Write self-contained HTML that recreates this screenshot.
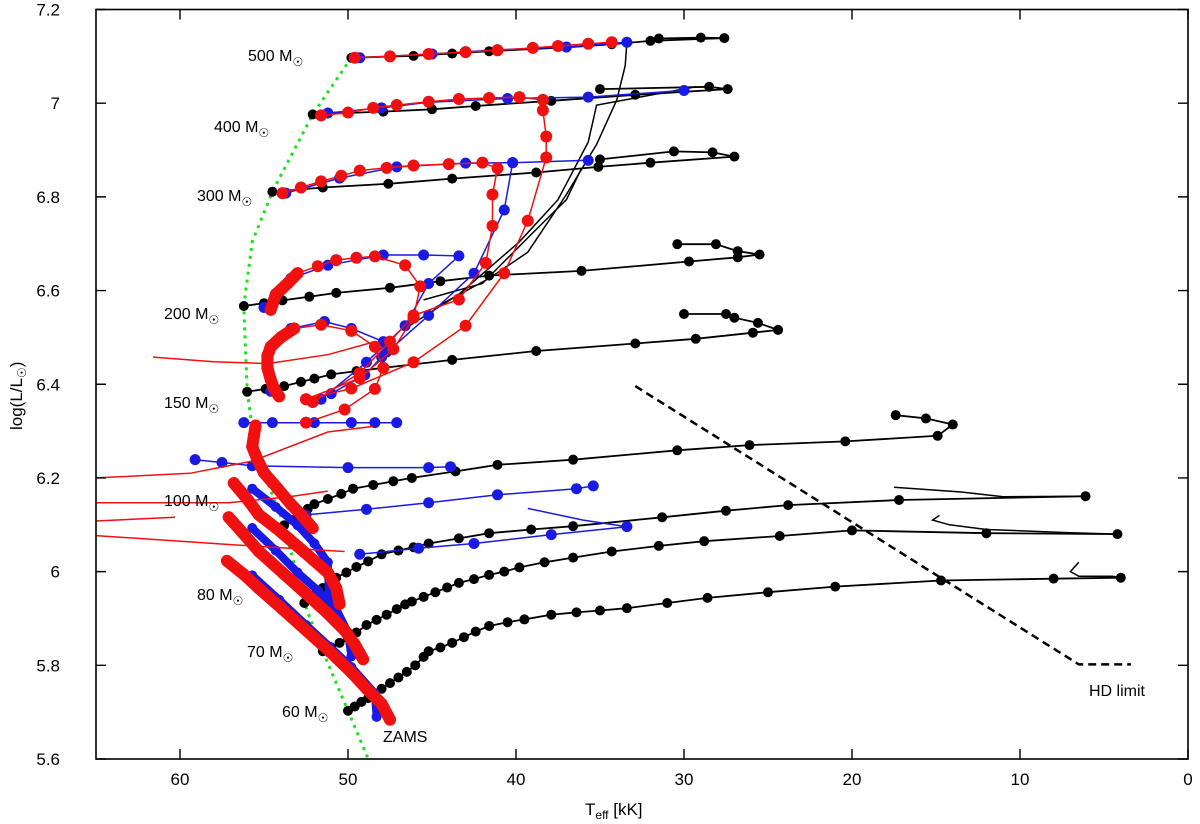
<!DOCTYPE html>
<html><head><meta charset="utf-8"><style>
html,body{margin:0;padding:0;background:#fff;}
svg{display:block;font-family:"Liberation Sans",sans-serif;}
</style></head><body>
<svg id="chart" width="1200" height="824" viewBox="0 0 1200 824" xmlns="http://www.w3.org/2000/svg">
<g id="marks"></g>
<g id="axes"></g>
</svg>
<script>
// ---- data (Teff [kK], log L) ----
const xTicks=[60,50,40,30,20,10,0];
const yTicks=[5.6,5.8,6,6.2,6.4,6.6,6.8,7,7.2];
const yTickLabels=["5.6","5.8","6","6.2","6.4","6.6","6.8","7","7.2"];
const zams=[[49.8,7.097],[52.1,6.976],[54.5,6.811],[55.7,6.704],[56.2,6.567],[56.0,6.384],[55.5,6.256],[53.8,6.099],[52.6,5.933],[51.5,5.83],[50.0,5.703],[48.8,5.6]];
const hdLimit=[[32.9,6.396],[6.5,5.802],[3.4,5.802]];
const black60=[[50.0,5.703],[49.6,5.712],[49.2,5.722],[48.8,5.73],[48.4,5.74],[48.0,5.75],[47.5,5.762],[47.0,5.774],[46.5,5.786],[46.0,5.8],[45.5,5.818],[45.2,5.83],[44.5,5.838],[43.8,5.848],[43.1,5.86],[42.4,5.872],[41.6,5.884],[40.5,5.892],[39.5,5.898],[37.9,5.908],[36.4,5.913],[35.0,5.917],[33.4,5.922],[31.0,5.933],[28.6,5.944],[25.0,5.956],[21.0,5.968],[14.7,5.981],[8.0,5.985],[4.0,5.987]];
const black60b=[[6.5,6.02],[7.0,6.0],[6.5,5.99],[4.5,5.99],[4.0,5.987]];
const black70=[[51.5,5.83],[51.0,5.838],[50.5,5.848],[50.0,5.858],[49.5,5.87],[48.9,5.886],[48.3,5.897],[47.7,5.908],[47.1,5.92],[46.6,5.93],[46.2,5.936],[45.5,5.946],[44.8,5.956],[44.1,5.966],[43.4,5.976],[42.5,5.984],[41.6,5.993],[40.7,6.0],[39.8,6.009],[38.3,6.02],[36.6,6.03],[34.3,6.043],[31.5,6.055],[28.8,6.065],[24.3,6.076],[20.0,6.088],[12.0,6.082],[4.2,6.08]];
const black70b=[[14.8,6.12],[15.2,6.11],[14.2,6.1],[12.0,6.09],[7,6.083],[4.2,6.08]];
const black80=[[52.6,5.933],[52.0,5.95],[51.5,5.965],[51.1,5.977],[50.7,5.987],[50.1,5.998],[49.5,6.01],[48.8,6.022],[48.0,6.037],[47.0,6.045],[46.1,6.052],[45.2,6.06],[43.4,6.071],[41.6,6.082],[39.1,6.09],[36.6,6.097],[31.3,6.116],[27.5,6.13],[23.8,6.142],[17.2,6.153],[6.1,6.161]];
const black80b=[[17.5,6.18],[13.5,6.17],[11.0,6.16],[6.1,6.161]];
const black100=[[53.8,6.099],[53.3,6.11],[52.9,6.124],[52.4,6.134],[52.0,6.144],[51.2,6.155],[50.4,6.166],[49.7,6.177],[48.5,6.185],[47.3,6.193],[46.2,6.2],[43.6,6.214],[41.1,6.228],[36.6,6.239],[30.4,6.259],[26.1,6.27],[20.4,6.278],[14.9,6.29],[14.0,6.314],[15.6,6.327],[17.4,6.334]];
const black150=[[56.0,6.384],[54.9,6.39],[53.8,6.396],[52.8,6.405],[52.0,6.412],[51.0,6.421],[49.5,6.428],[47.9,6.435],[43.8,6.452],[38.8,6.471],[32.9,6.487],[29.3,6.497],[25.9,6.51],[24.4,6.516],[25.6,6.531],[27.0,6.542],[27.5,6.55],[30.0,6.55]];
const black200=[[56.2,6.567],[55.0,6.573],[53.9,6.579],[52.3,6.587],[50.7,6.595],[47.5,6.606],[44.5,6.62],[41.6,6.632],[36.1,6.642],[29.7,6.662],[26.8,6.671],[25.5,6.677],[26.8,6.684],[28.1,6.699],[30.4,6.699]];
const black300=[[54.5,6.811],[51.5,6.82],[47.6,6.828],[43.8,6.839],[38.8,6.852],[35.1,6.864],[32.0,6.873],[27.0,6.886],[28.3,6.895],[30.6,6.897],[35.0,6.88]];
const black400=[[52.1,6.976],[47.9,6.982],[45.0,6.987],[42.4,6.994],[37.9,7.005],[32.9,7.018],[27.4,7.03],[28.5,7.035],[35.0,7.03]];
const black500=[[49.8,7.097],[46.1,7.101],[43.8,7.106],[41.6,7.111],[37.0,7.119],[34.3,7.126],[32.0,7.133],[27.6,7.139],[29.0,7.14],[31.5,7.138]];
const blackDrop1=[[33.4,7.13],[33.5,7.08],[34.0,7.007],[35.2,6.912],[37.0,6.805],[39.3,6.682],[41.6,6.626],[44.8,6.564]];
const blackDrop2=[[29.3,7.035],[35.2,6.996],[35.7,6.917],[37.5,6.794],[39.8,6.704],[43.4,6.592],[46.6,6.519]];
const blackDrop3=[[36.1,6.861],[37.0,6.794],[38.9,6.727],[42.0,6.615],[45.5,6.58]];
const red500=[[49.6,7.097],[47.5,7.1],[45.2,7.105],[43.0,7.109],[41.1,7.113],[39.0,7.118],[37.5,7.122],[35.7,7.127],[34.3,7.13]];
const red400=[[51.6,6.974],[50.0,6.98],[48.5,6.99],[47.1,6.996],[45.2,7.003],[43.4,7.009],[41.6,7.011],[39.8,7.013],[38.4,7.007],[38.4,6.985],[38.2,6.929],[38.2,6.884],[39.3,6.749],[40.7,6.637],[43.0,6.525],[46.1,6.447],[49.8,6.391],[52.5,6.368]];
const red300=[[53.9,6.808],[52.8,6.82],[51.6,6.833],[50.4,6.845],[49.3,6.856],[47.7,6.862],[46.1,6.867],[44.0,6.87],[42.0,6.873],[41.1,6.861],[41.4,6.805],[41.4,6.738],[41.8,6.659],[43.4,6.581],[46.1,6.547],[47.5,6.491],[49.3,6.424],[52.1,6.362]];
const red200a=[[54.6,6.559],[54.4,6.58],[54.3,6.592],[53.9,6.605],[53.6,6.615],[53.0,6.637]];
const red200=[[53.0,6.637],[51.8,6.652],[50.7,6.665],[49.5,6.67],[48.4,6.673],[46.6,6.654],[45.7,6.609],[46.1,6.542],[47.3,6.475],[49.3,6.413],[52.5,6.368]];
const red150a=[[54.1,6.374],[54.4,6.39],[54.6,6.41],[54.8,6.435],[54.8,6.46],[54.6,6.48],[54.0,6.5],[53.2,6.519]];
const red150=[[53.2,6.519],[51.6,6.527],[49.8,6.514],[48.4,6.48],[47.9,6.435],[48.4,6.39],[50.2,6.346],[52.5,6.318]];
const red150b=[[61.6,6.458],[58,6.448],[54.8,6.444],[51.2,6.463],[48.4,6.491]];
const red100=[[55.5,6.312],[55.6,6.29],[55.7,6.267],[55.4,6.24],[55.0,6.211],[54.2,6.178],[53.4,6.144],[52.7,6.118],[52.1,6.093]];
const redLeft1=[[65,6.2],[59.4,6.21],[55.7,6.236],[51.2,6.298],[48.5,6.31]];
const redLeft2=[[65,6.147],[57.1,6.147],[53.5,6.16],[51.2,6.172]];
const redLeft3=[[65,6.108],[60.3,6.116]];
const redLeft4=[[65,6.077],[57.1,6.058],[53.5,6.05],[50.2,6.043]];
const red80=[[56.8,6.189],[56.0,6.155],[55.3,6.121],[54.1,6.088],[53.0,6.054],[52.1,6.026],[51.2,5.998],[50.7,5.965],[50.5,5.931]];
const red70=[[57.1,6.116],[56.2,6.08],[55.3,6.043],[53.9,5.998],[52.5,5.953],[51.3,5.914],[50.2,5.875],[49.6,5.845],[49.1,5.813]];
const red60=[[57.2,6.023],[56.2,5.994],[55.3,5.964],[53.9,5.92],[52.5,5.875],[51.1,5.83],[49.8,5.785],[48.9,5.75],[48.0,5.718],[47.5,5.684]];
const blue60=[[55.7,5.992],[54.1,5.94],[52.5,5.886],[51.1,5.84],[49.8,5.796],[48.4,5.74],[48.3,5.69]];
const blue70=[[55.7,6.093],[54.3,6.045],[53.0,5.998],[51.8,5.96],[50.7,5.92],[50.0,5.87],[49.8,5.819]];
const blue80=[[55.7,6.177],[54.3,6.138],[53.0,6.099],[52.0,6.06],[51.2,6.02],[51.1,5.92]];
const blueH1=[[56.2,6.318],[54.5,6.318],[52.0,6.318],[49.8,6.318],[48.4,6.318],[47.1,6.318]];
const blueH2=[[59.1,6.239],[57.5,6.233],[55.7,6.226],[50.0,6.222],[45.2,6.222],[43.9,6.224]];
const blueH3=[[52.5,6.121],[48.9,6.133],[45.2,6.147],[41.1,6.164],[36.4,6.177],[35.4,6.183]];
const blueH4=[[49.3,6.037],[45.8,6.05],[42.5,6.06],[37.9,6.079],[33.4,6.096]];
const blueH4b=[[39.3,6.135],[36.0,6.11],[33.4,6.096]];
const blue150=[[54.6,6.385],[54.7,6.42],[54.8,6.458],[53.4,6.519],[51.4,6.534],[49.8,6.519],[47.9,6.491],[47.7,6.469],[49.0,6.42],[51.0,6.38]];
const blue200=[[55.0,6.564],[53.4,6.626],[51.2,6.654],[47.9,6.676],[45.5,6.676],[43.4,6.674],[45.2,6.615],[46.6,6.525],[48.9,6.447],[51.6,6.368]];
const blue300=[[53.7,6.808],[50.5,6.84],[47.1,6.864],[43.0,6.872],[40.2,6.873],[35.7,6.878]];
const blue300b=[[40.2,6.873],[40.7,6.772],[42.5,6.637],[45.2,6.547],[48.0,6.458]];
const blue400=[[51.2,6.979],[48.0,6.99],[45.2,7.002],[40.5,7.01],[35.7,7.013],[30.0,7.027]];
const blue500=[[49.3,7.097],[45.0,7.105],[41.1,7.114],[37.0,7.12],[33.4,7.13]];

// ---- scales ----
const X0=96,X1=1188,Y0=9.5,Y1=759,TMAX=65,LMIN=5.6,LMAX=7.2;
function sx(t){return X1-(t/TMAX)*(X1-X0);}
function sy(l){return Y1-(l-LMIN)/(LMAX-LMIN)*(Y1-Y0);}
const NS="http://www.w3.org/2000/svg";
const marks=document.getElementById('marks');
const axes=document.getElementById('axes');
function mk(tag,attrs,parent){const e=document.createElementNS(NS,tag);for(const k in attrs)e.setAttribute(k,attrs[k]);parent.appendChild(e);return e;}
function pathD(pts){return pts.map((p,i)=>(i?'L':'M')+sx(p[0]).toFixed(1)+' '+sy(p[1]).toFixed(1)).join(' ');}
function track(pts,name,color,lw,r,thick){
  const g=mk('g',{},marks);
  
  
  if(thick){const t=mk('path',{d:pathD(pts),fill:'none',stroke:color,'stroke-width':thick,'stroke-linecap':'round','stroke-linejoin':'round'},g);
    
    }
  const l=mk('path',{d:pathD(pts),fill:'none',stroke:color,'stroke-width':lw},g);
  
  
  if(r>0)pts.forEach(p=>{const c=mk('circle',{cx:sx(p[0]),cy:sy(p[1]),r:r,fill:color},g);
    
    });
}
const K='#000',R='#f01010',B='#1a1ae6';
const z=mk('path',{d:pathD(zams),fill:'none',stroke:'#22dd22','stroke-width':3,'stroke-dasharray':'3,5'},marks);


[[black60,'black-track-60'],[black70,'black-track-70'],[black80,'black-track-80'],[black100,'black-track-100'],[black150,'black-track-150'],[black200,'black-track-200'],[black300,'black-track-300'],[black400,'black-track-400'],[black500,'black-track-500']].forEach(a=>track(a[0],a[1],K,1.8,5,0));
[[black60b,'black-hook-60'],[black70b,'black-hook-70'],[black80b,'black-hook-80'],[blackDrop1,'black-drop-500'],[blackDrop2,'black-drop-400'],[blackDrop3,'black-drop-300']].forEach(a=>track(a[0],a[1],K,1.5,0,0));
[[blue60,'blue-track-60'],[blue70,'blue-track-70'],[blue80,'blue-track-80']].forEach(a=>track(a[0],a[1],B,1.5,5,8));
[[blueH1,'blue-track-h1'],[blueH2,'blue-track-h2'],[blueH3,'blue-track-h3'],[blueH4,'blue-track-h4'],[blue150,'blue-track-150'],[blue200,'blue-track-200'],[blue300,'blue-track-300'],[blue300b,'blue-drop-300'],[blue400,'blue-track-400'],[blue500,'blue-track-500']].forEach(a=>track(a[0],a[1],B,1.5,5.5,0));
track(blueH4b,'blue-branch-h4',B,1.5,0,0);
[[red60,'red-track-60'],[red70,'red-track-70'],[red80,'red-track-80'],[red100,'red-track-100'],[red150a,'red-track-150-start'],[red200a,'red-track-200-start']].forEach(a=>track(a[0],a[1],R,1.5,6,12));
[[red150,'red-track-150'],[red200,'red-track-200'],[red300,'red-track-300'],[red400,'red-track-400'],[red500,'red-track-500']].forEach(a=>track(a[0],a[1],R,1.5,6,0));
[[red150b,'red-line-150'],[redLeft1,'red-line-left-1'],[redLeft2,'red-line-left-2'],[redLeft3,'red-line-left-3'],[redLeft4,'red-line-left-4']].forEach(a=>track(a[0],a[1],R,1.5,0,0));
const hd=mk('path',{d:pathD(hdLimit),fill:'none',stroke:'#000','stroke-width':2.5,'stroke-dasharray':'8,5'},marks);



const frame=mk('rect',{x:X0,y:Y0,width:X1-X0,height:Y1-Y0,fill:'none',stroke:'#000','stroke-width':1.6},axes);


xTicks.forEach(t=>{const x=sx(t);
  const a=mk('path',{d:`M${x} ${Y1}V${Y1-10}M${x} ${Y0}V${Y0+10}`,stroke:'#000','stroke-width':1.4},axes);
  
  
  const tx=mk('text',{x:x,y:785,'font-size':17,'text-anchor':'middle'},axes);tx.textContent=t;
  
  });
yTicks.forEach((v,i)=>{const y=sy(v);
  const a=mk('path',{d:`M${X0} ${y}H${X0+10}M${X1} ${y}H${X1-10}`,stroke:'#000','stroke-width':1.4},axes);
  
  
  const tx=mk('text',{x:60,y:y+6,'font-size':17,'text-anchor':'end'},axes);tx.textContent=yTickLabels[i];
  
  });
</script>
<div style="position:absolute;left:0;top:0;width:1200px;height:824px;pointer-events:none;font-family:'Liberation Sans',sans-serif;">
<svg width="1200" height="824" style="position:absolute;left:0;top:0">
<g font-size="16" fill="#000">
<text x="585" y="815" font-size="17">T<tspan font-size="12" dy="4">eff</tspan><tspan dy="-4"> [kK]</tspan></text>
<text transform="translate(22,430) rotate(-90)" font-size="17">log(L/L<tspan font-size="12" dy="4">☉</tspan><tspan dy="-4">)</tspan></text>
<text x="248" y="61">500 M<tspan font-size="12" dy="5">☉</tspan></text>
<text x="214" y="132">400 M<tspan font-size="12" dy="5">☉</tspan></text>
<text x="197" y="201">300 M<tspan font-size="12" dy="5">☉</tspan></text>
<text x="164" y="319">200 M<tspan font-size="12" dy="5">☉</tspan></text>
<text x="164" y="408">150 M<tspan font-size="12" dy="5">☉</tspan></text>
<text x="164" y="506">100 M<tspan font-size="12" dy="5">☉</tspan></text>
<text x="197" y="600">80 M<tspan font-size="12" dy="5">☉</tspan></text>
<text x="247" y="657">70 M<tspan font-size="12" dy="5">☉</tspan></text>
<text x="282" y="717">60 M<tspan font-size="12" dy="5">☉</tspan></text>
<text x="383" y="742">ZAMS</text>
<text x="1089" y="696">HD limit</text>
</g></svg></div>
</body></html>
